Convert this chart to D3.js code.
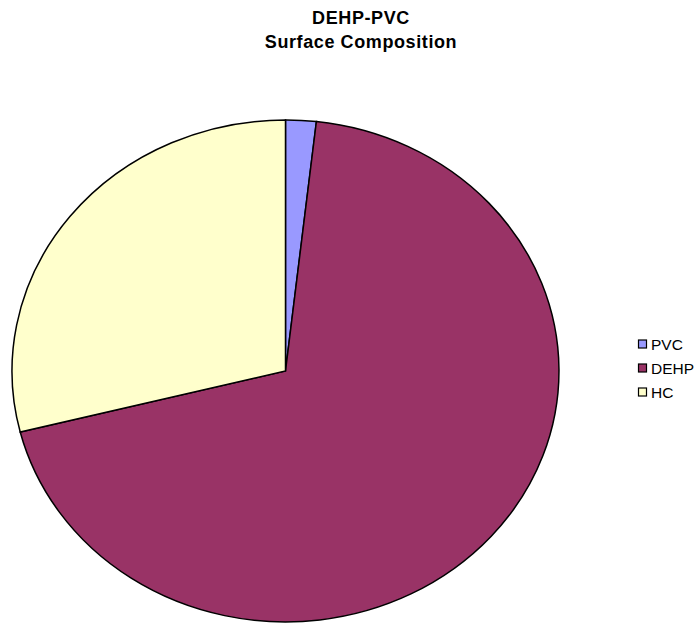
<!DOCTYPE html>
<html>
<head>
<meta charset="utf-8">
<script src="https://cdn.jsdelivr.net/npm/d3@7"></script>
<style>
  body { margin: 0; background: #fff; }
  svg { display: block; font-family: Arial, "Liberation Sans", sans-serif; }
</style>
</head>
<body>
<svg id="chart" width="696" height="623"></svg>
<script>
const categories = ["PVC", "DEHP", "HC"];
const values = [1.8, 69.3, 28.9];
const colors = ["#9999ff", "#993366", "#ffffcc"];
const titleLines = ["DEHP-PVC", "Surface Composition"];

const svg = d3.select("#chart");

// pie is drawn on a unit circle then stretched into the ellipse
const cx = 285.5, cy = 371, rx = 273.5, ry = 251;

const pie = d3.pie().sort(null).value((d) => d.value);
const arc = d3.arc().innerRadius(0).outerRadius(1);
const data = categories.map((c, i) => ({ name: c, value: values[i] }));
const color = d3.scaleOrdinal().domain(categories).range(colors);

const pieG = svg
  .append("g")
  .attr("transform", `translate(${cx},${cy}) scale(${rx},${ry})`);

pieG
  .selectAll("path")
  .data(pie(data))
  .join("path")
  .attr("d", arc)
  .attr("fill", (d) => color(d.data.name))
  .attr("stroke", "#000")
  .attr("stroke-width", 1.5)
  .attr("vector-effect", "non-scaling-stroke");

// title
svg
  .selectAll(".title")
  .data(titleLines)
  .join("text")
  .attr("class", "title")
  .attr("x", 361)
  .attr("y", (d, i) => 24 + i * 24)
  .attr("text-anchor", "middle")
  .style("font-size", "18px")
  .style("font-weight", "bold")
  .style("letter-spacing", "0.6px")
  .text((d) => d);

// legend
const legend = svg
  .selectAll(".legend")
  .data(categories)
  .join("g")
  .attr("class", "legend")
  .attr("transform", (d, i) => `translate(638,${344 + i * 24})`);

legend
  .append("rect")
  .attr("x", 0.5)
  .attr("y", -4)
  .attr("width", 8)
  .attr("height", 8)
  .attr("fill", (d) => color(d))
  .attr("stroke", "#000")
  .attr("stroke-width", 1.2);

legend
  .append("text")
  .attr("x", 13)
  .attr("y", 6)
  .style("font-size", "15.5px")
  .text((d) => d);
</script>
</body>
</html>
